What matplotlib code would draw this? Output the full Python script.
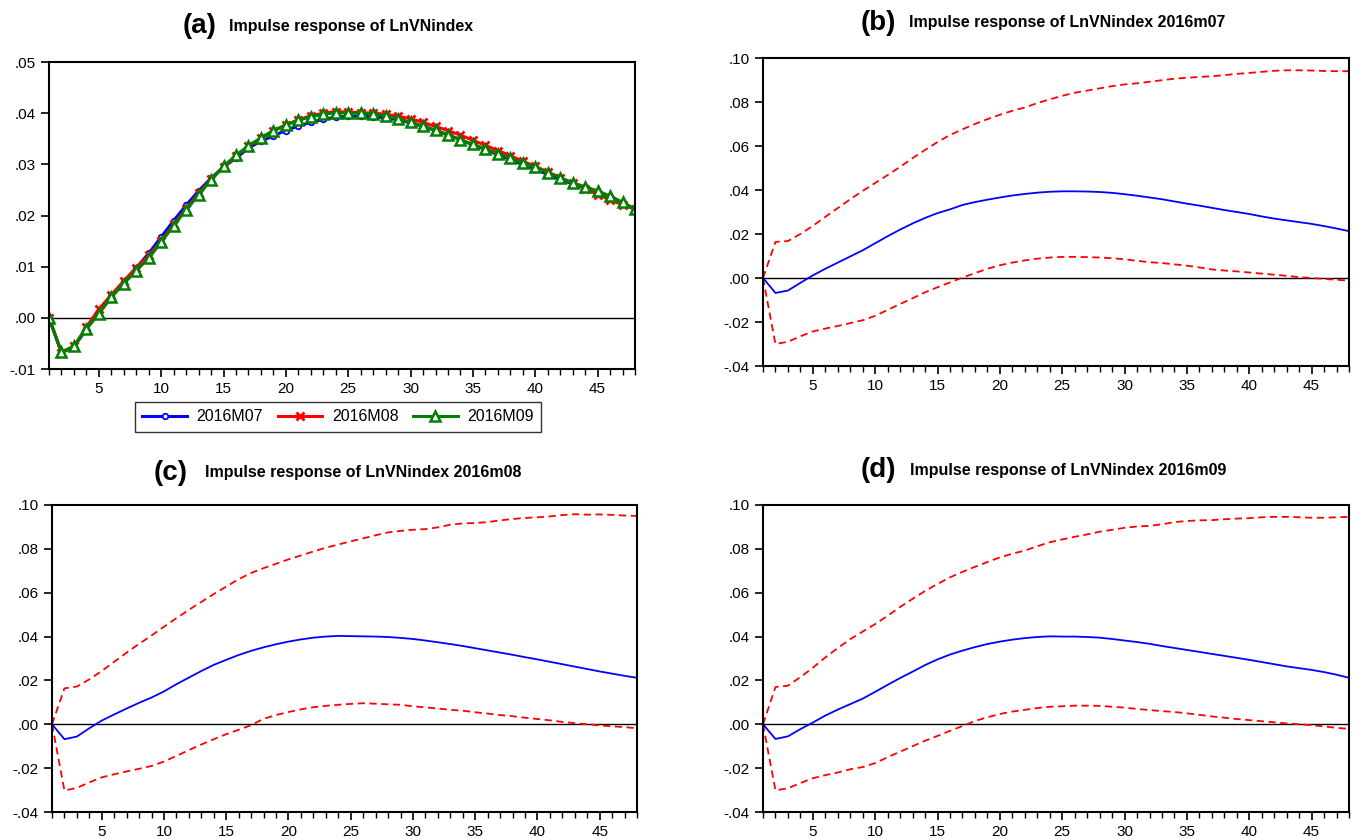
import numpy as np
import matplotlib
matplotlib.use("Agg")
import matplotlib.pyplot as plt
from matplotlib.ticker import FuncFormatter, MultipleLocator

plt.rcParams['font.family'] = ['Liberation Sans', 'DejaVu Sans']

# periods 1..48
periods = np.arange(1, 49)

# impulse responses (point estimates)
irf_m07 = [0.0, -0.0068, -0.0057, -0.0022, 0.0012, 0.0042, 0.0070, 0.0098, 0.0126, 0.0158,
           0.0190, 0.0220, 0.0248, 0.0273, 0.0295, 0.0312, 0.0332, 0.0345, 0.0356, 0.0366,
           0.0375, 0.0382, 0.0388, 0.0392, 0.0394, 0.0394, 0.0393, 0.0391, 0.0387, 0.0381,
           0.0374, 0.0366, 0.0358, 0.0348, 0.0338, 0.0329, 0.0319, 0.0309, 0.0300, 0.0291,
           0.0280, 0.0270, 0.0262, 0.0254, 0.0246, 0.0236, 0.0225, 0.0213]
irf_m08 = [0.0, -0.0068, -0.0056, -0.0018, 0.0017, 0.0045, 0.0072, 0.0098, 0.0122, 0.0150,
           0.0183, 0.0213, 0.0243, 0.0271, 0.0294, 0.0316, 0.0335, 0.0351, 0.0365, 0.0377,
           0.0387, 0.0395, 0.0400, 0.0403, 0.0402, 0.0401, 0.0400, 0.0398, 0.0394, 0.0389,
           0.0382, 0.0374, 0.0366, 0.0357, 0.0347, 0.0337, 0.0327, 0.0317, 0.0306, 0.0296,
           0.0285, 0.0274, 0.0263, 0.0252, 0.0241, 0.0231, 0.0221, 0.0212]
irf_m09 = [0.0, -0.0067, -0.0055, -0.0022, 0.0008, 0.0040, 0.0067, 0.0092, 0.0117, 0.0148,
           0.0180, 0.0211, 0.0240, 0.0270, 0.0296, 0.0318, 0.0336, 0.0352, 0.0366, 0.0377,
           0.0386, 0.0393, 0.0398, 0.0401, 0.0400, 0.0400, 0.0398, 0.0395, 0.0389, 0.0382,
           0.0375, 0.0367, 0.0357, 0.0348, 0.0339, 0.0330, 0.0321, 0.0312, 0.0303, 0.0294,
           0.0284, 0.0274, 0.0264, 0.0256, 0.0248, 0.0238, 0.0226, 0.0212]

# +/- 2 S.E. bands
upper_m07 = [0.0, 0.0164, 0.0168, 0.0200, 0.0237, 0.0278, 0.0318, 0.0358, 0.0396, 0.0432,
             0.0468, 0.0505, 0.0545, 0.0582, 0.0618, 0.0650, 0.0676, 0.0700, 0.0722, 0.0742,
             0.0760, 0.0775, 0.0795, 0.0812, 0.0828, 0.0842, 0.0852, 0.0862, 0.0872, 0.0880,
             0.0885, 0.0892, 0.0899, 0.0906, 0.0910, 0.0914, 0.0917, 0.0922, 0.0928, 0.0932,
             0.0937, 0.0942, 0.0944, 0.0944, 0.0943, 0.0941, 0.0940, 0.0940]
lower_m07 = [0.0, -0.0300, -0.0290, -0.0265, -0.0243, -0.0230, -0.0218, -0.0205, -0.0192, -0.0172,
             -0.0145, -0.0118, -0.0092, -0.0065, -0.0042, -0.0020, 0.0002, 0.0022, 0.0042, 0.0058,
             0.0070, 0.0080, 0.0088, 0.0093, 0.0096, 0.0096, 0.0095, 0.0093, 0.0090, 0.0085,
             0.0078, 0.0072, 0.0068, 0.0062, 0.0056, 0.0048, 0.0039, 0.0034, 0.0030, 0.0025,
             0.0020, 0.0015, 0.0010, 0.0004, 0.0000, -0.0004, -0.0008, -0.0012]
upper_m08 = [0.0, 0.0164, 0.0172, 0.0205, 0.0243, 0.0285, 0.0327, 0.0367, 0.0405, 0.0445,
             0.0484, 0.0522, 0.0558, 0.0594, 0.0628, 0.0662, 0.0690, 0.0712, 0.0732, 0.0752,
             0.0770, 0.0788, 0.0805, 0.0820, 0.0834, 0.0848, 0.0862, 0.0875, 0.0882, 0.0887,
             0.0890, 0.0898, 0.0910, 0.0916, 0.0918, 0.0922, 0.0930, 0.0936, 0.0941, 0.0944,
             0.0948, 0.0954, 0.0958, 0.0956, 0.0957, 0.0955, 0.0952, 0.0950]
lower_m08 = [0.0, -0.0302, -0.0290, -0.0265, -0.0242, -0.0228, -0.0215, -0.0203, -0.0190, -0.0170,
             -0.0144, -0.0118, -0.0092, -0.0068, -0.0045, -0.0025, -0.0004, 0.0025, 0.0042, 0.0056,
             0.0068, 0.0078, 0.0084, 0.0089, 0.0093, 0.0096, 0.0094, 0.0091, 0.0089, 0.0082,
             0.0077, 0.0072, 0.0066, 0.0062, 0.0055, 0.0049, 0.0042, 0.0037, 0.0030, 0.0024,
             0.0018, 0.0011, 0.0005, 0.0000, -0.0005, -0.0009, -0.0013, -0.0018]
upper_m09 = [0.0, 0.0170, 0.0176, 0.0215, 0.0258, 0.0305, 0.0348, 0.0388, 0.0423, 0.0457,
             0.0495, 0.0535, 0.0572, 0.0608, 0.0640, 0.0670, 0.0695, 0.0718, 0.0740, 0.0761,
             0.0778, 0.0792, 0.0812, 0.0830, 0.0843, 0.0855, 0.0866, 0.0878, 0.0887, 0.0896,
             0.0902, 0.0905, 0.0912, 0.0922, 0.0927, 0.0930, 0.0931, 0.0935, 0.0938, 0.0940,
             0.0944, 0.0946, 0.0946, 0.0944, 0.0942, 0.0942, 0.0944, 0.0946]
lower_m09 = [0.0, -0.0301, -0.0292, -0.0268, -0.0246, -0.0232, -0.0220, -0.0205, -0.0195, -0.0177,
             -0.0150, -0.0125, -0.0100, -0.0075, -0.0053, -0.0030, -0.0008, 0.0015, 0.0032, 0.0047,
             0.0058, 0.0066, 0.0074, 0.0080, 0.0082, 0.0085, 0.0085, 0.0084, 0.0080, 0.0076,
             0.0070, 0.0065, 0.0060, 0.0056, 0.0050, 0.0043, 0.0036, 0.0030, 0.0024, 0.0019,
             0.0014, 0.0009, 0.0004, 0.0000, -0.0004, -0.0010, -0.0016, -0.0021]

series_labels = ['2016M07', '2016M08', '2016M09']

W, H = 1354, 839
fig = plt.figure(figsize=(W / 100, H / 100), dpi=100)


def px_axes(left, top, right, bottom):
    return fig.add_axes([left / W, 1 - bottom / H, (right - left) / W, (bottom - top) / H])


def dot_fmt(v, pos):
    s = f"{v:.2f}"
    return s.replace("0.", ".", 1)


def style(ax, ylo, yhi, ystep):
    ax.set_xlim(1, 48)
    ax.set_ylim(ylo, yhi)
    ax.xaxis.set_major_locator(MultipleLocator(5))
    ax.xaxis.set_minor_locator(MultipleLocator(1))
    ax.yaxis.set_major_locator(MultipleLocator(ystep))
    ax.yaxis.set_major_formatter(FuncFormatter(dot_fmt))
    ax.tick_params(axis='both', which='major', direction='out', length=6, width=1.2,
                   labelsize=11, top=False, right=False)
    ax.tick_params(axis='x', which='minor', direction='out', length=4, width=1.0, top=False)
    ax.tick_params(axis='y', which='minor', left=False, right=False)
    for sp in ax.spines.values():
        sp.set_linewidth(1.5)
    ax.axhline(0, color='black', lw=1.0, zorder=1)


def title(xc_par, x_txt, y, letter, text):
    fig.text(xc_par / W, 1 - y / H, f"({letter})", fontsize=20, fontweight='bold',
             ha='center', va='center')
    fig.text(x_txt / W, 1 - y / H, text, fontsize=11.5, fontweight='bold',
             ha='left', va='center')


# (a) all three responses
ax_a = px_axes(49, 62, 635, 369)
style(ax_a, -0.01, 0.05, 0.01)
la, = ax_a.plot(periods, irf_m07, color='blue', lw=2.2, marker='o', ms=4,
                mfc='white', mec='blue', mew=1.3, label=series_labels[0])
lb, = ax_a.plot(periods, irf_m08, color='red', lw=2.2, marker='x', ms=6,
                mew=2.0, label=series_labels[1])
lc, = ax_a.plot(periods, irf_m09, color='green', lw=2.2, marker='^', ms=7,
                mfc='white', mec='green', mew=1.8, label=series_labels[2])
title(200, 229, 26, 'a', 'Impulse response of LnVNindex')
leg = fig.legend(handles=[la, lb, lc], loc='center', ncol=3,
                 bbox_to_anchor=(338 / W, 1 - 417 / H), fontsize=11.5,
                 frameon=True, fancybox=False, edgecolor='black',
                 handlelength=2.8, handletextpad=0.6, columnspacing=0.9,
                 borderpad=0.45)
leg.get_frame().set_linewidth(1.0)

# (b), (c), (d) responses with bands
panels = [
    ((763, 58, 1349, 366), irf_m07, upper_m07, lower_m07, (878, 909, 23, 'b', 'Impulse response of LnVNindex 2016m07')),
    ((52, 505, 637, 812), irf_m08, upper_m08, lower_m08, (171, 205, 473, 'c', 'Impulse response of LnVNindex 2016m08')),
    ((763, 505, 1349, 812), irf_m09, upper_m09, lower_m09, (878, 910, 470, 'd', 'Impulse response of LnVNindex 2016m09')),
]
for box, irf, up, lo, tt in panels:
    ax = px_axes(*box)
    style(ax, -0.04, 0.10, 0.02)
    ax.plot(periods, up, color='red', lw=1.3, ls=(0, (4, 2.5)))
    ax.plot(periods, lo, color='red', lw=1.3, ls=(0, (4, 2.5)))
    ax.plot(periods, irf, color='blue', lw=1.3)
    title(*tt)

fig.savefig('out.png', dpi=100)
